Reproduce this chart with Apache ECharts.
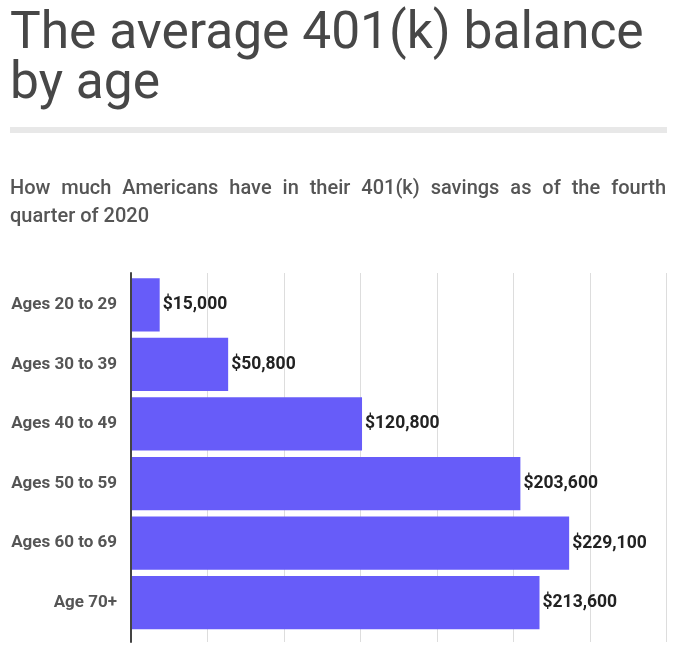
<!DOCTYPE html>
<html>
<head>
<meta charset="utf-8">
<script src="https://cdn.jsdelivr.net/npm/echarts@6/dist/echarts.min.js"></script>
<style>
html,body{margin:0;padding:0;background:#fff;}
#chart{width:674px;height:650px;}
</style>
</head>
<body>
<div id="chart"></div>
<script>
// ---- data ----
const categories = ['Ages 20 to 29', 'Ages 30 to 39', 'Ages 40 to 49', 'Ages 50 to 59', 'Ages 60 to 69', 'Age 70+'];
const balances = [15000, 50800, 120800, 203600, 229100, 213600];
const axisMin = 0;
const axisMax = 280000;
const axisInterval = 40000;
const titleLines = ['The average 401(k) balance', 'by age'];
const subtitleLines = ['How much Americans have in their 401(k) savings as of the fourth', 'quarter of 2020'];

// ---- layout / style ----
const FONT = 'Roboto';
const subFont = { size: 20, weight: 500, color: '#555555' };
const textLeft = 10, textRight = 666;

function measure(text, size, weight) {
  const c = document.createElement('canvas').getContext('2d');
  c.font = weight + ' ' + size + 'px ' + FONT;
  return c.measureText(text).width;
}

const graphics = [];
// title
titleLines.forEach((t, i) => {
  graphics.push({
    type: 'text', left: textLeft, top: 9 + i * 50,
    style: { text: t, fontFamily: FONT, fontSize: 51.5, fontWeight: 400, fill: '#474747' }
  });
});
// separator
graphics.push({ type: 'rect', shape: { x: 10, y: 127, width: 657, height: 6 }, style: { fill: '#e8e8e8' } });
// subtitle line 1 justified
(function () {
  const words = subtitleLines[0].split(' ');
  const widths = words.map(w => measure(w, subFont.size, subFont.weight));
  const total = widths.reduce((a, b) => a + b, 0);
  const gap = (textRight - textLeft - total) / (words.length - 1);
  let x = textLeft;
  words.forEach((w, i) => {
    graphics.push({
      type: 'text', x: x, y: 179,
      style: { text: w, fontFamily: FONT, fontSize: subFont.size, fontWeight: subFont.weight, fill: subFont.color, verticalAlign: 'top' }
    });
    x += widths[i] + gap;
  });
})();
graphics.push({
  type: 'text', x: textLeft, y: 207,
  style: { text: subtitleLines[1], fontFamily: FONT, fontSize: subFont.size, fontWeight: subFont.weight, fill: subFont.color, verticalAlign: 'top' }
});

const chart = echarts.init(document.getElementById('chart'), null, { renderer: 'canvas' });
chart.setOption({
  animation: false,
  backgroundColor: '#ffffff',
  graphic: graphics,
  grid: [
    { left: 131, right: 7.5, top: 273, bottom: 8 },
    { left: 131, right: 7.5, top: 275, bottom: 17.5 }
  ],
  xAxis: [
    {
      gridIndex: 0, type: 'value', min: axisMin, max: axisMax, interval: axisInterval,
      axisLabel: { show: false }, axisLine: { show: false }, axisTick: { show: false },
      splitLine: { show: true, lineStyle: { color: '#dddddd', width: 1 } }
    },
    {
      gridIndex: 1, type: 'value', min: axisMin, max: axisMax, interval: axisInterval,
      axisLabel: { show: false }, axisLine: { show: false }, axisTick: { show: false },
      splitLine: { show: false }
    }
  ],
  yAxis: [
    {
      gridIndex: 0, type: 'value', min: 0, max: 1,
      axisLabel: { show: false }, axisTick: { show: false }, splitLine: { show: false },
      axisLine: { show: true, lineStyle: { color: '#444444', width: 2 } }, z: 5
    },
    {
      gridIndex: 1, type: 'category', data: categories, inverse: true,
      axisLine: { show: false }, axisTick: { show: false },
      axisLabel: { margin: 14, fontFamily: FONT, fontSize: 17, fontWeight: 'bold', color: '#555555' }
    }
  ],
  series: [{
    type: 'bar', xAxisIndex: 1, yAxisIndex: 1,
    data: balances,
    barCategoryGap: '10.6%',
    itemStyle: { color: '#675cf9' },
    label: {
      show: true, position: 'right', distance: 3,
      fontFamily: FONT, fontSize: 17.5, fontWeight: 'bold', color: '#222222',
      formatter: p => '$' + p.value.toLocaleString('en-US')
    }
  }]
});
</script>
</body>
</html>
